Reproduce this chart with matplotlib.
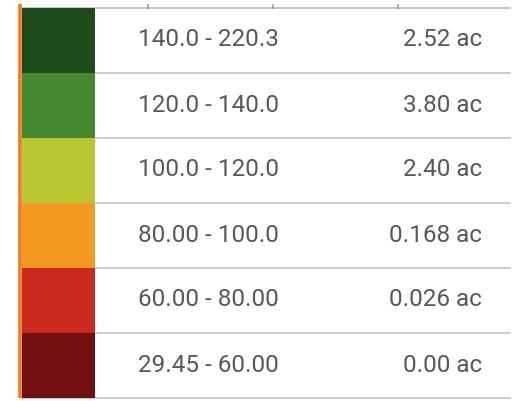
import matplotlib
matplotlib.use("Agg")
import matplotlib.pyplot as plt
from matplotlib.patches import Rectangle

ranges = ["140.0 - 220.3", "120.0 - 140.0", "100.0 - 120.0", "80.00 - 100.0", "60.00 - 80.00", "29.45 - 60.00"]
areas = ["2.52 ac", "3.80 ac", "2.40 ac", "0.168 ac", "0.026 ac", "0.00 ac"]
colors = ["#1f4a1c", "#458830", "#b9c832", "#f39a23", "#ca2a1e", "#710f10"]

W, H = 519, 401
fig = plt.figure(figsize=(W / 100, H / 100), dpi=100)
ax = fig.add_axes([0, 0, 1, 1])
ax.set_xlim(0, W)
ax.set_ylim(H, 0)
ax.axis("off")

top = 7.5
rh = 65.0
x0, sw_w, x_end = 21.5, 73.5, 510
n = len(ranges)

# top line with ticks
ax.plot([x0, x_end], [top, top], color="#bdbdbd", lw=1.2, zorder=1)
for tx in [148, 273, 398]:
    ax.plot([tx, tx], [top - 3, top], color="#9a9a9a", lw=1.2, zorder=1)

for i, (r, a, c) in enumerate(zip(ranges, areas, colors)):
    y = top + i * rh
    ax.add_patch(Rectangle((x0, y), sw_w, rh, facecolor=c, edgecolor="none", zorder=2))
    ax.plot([x0, x_end], [y + rh, y + rh], color="#c4c4c4", lw=1.2, zorder=1)
    ax.text(137.5, y + rh / 2, r, ha="left", va="center", fontsize=17.5,
            family="Roboto", color="#585858")
    ax.text(482, y + rh / 2, a, ha="right", va="center", fontsize=17.5,
            family="Roboto", color="#585858")

# orange left edge
ax.plot([19.8, 19.8], [4, top + n * rh], color="#f07a1e", lw=2.6, zorder=3, solid_capstyle="butt")

fig.savefig("out.png", dpi=100)
